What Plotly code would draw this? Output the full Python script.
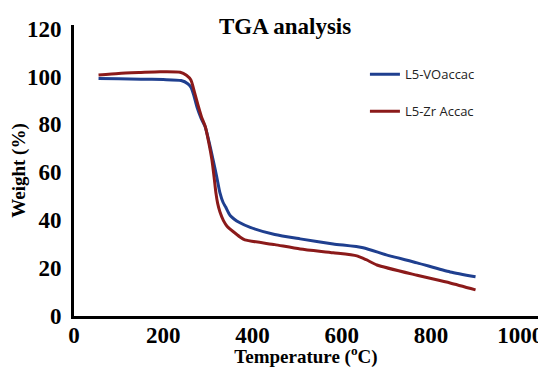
import plotly.graph_objects as go

# L5-VOaccac
temp_vo = [55, 100, 150, 200, 240, 255, 262, 268, 276, 285, 294, 303, 312, 320, 327, 334, 340, 350, 372, 395, 450, 507, 581, 648, 700, 769, 843, 900]
wt_vo = [99.2, 99.1, 98.9, 98.7, 98.3, 97.0, 95.5, 92.5, 87, 82.5, 79, 72.5, 65, 58, 51.5, 47.5, 45.5, 42, 38.9, 37, 34, 32.2, 30.1, 28.5, 25.5, 22.2, 18.4, 16.4]

# L5-Zr Accac
temp_zr = [55, 100, 150, 193, 238, 252, 262, 270, 278, 286, 294, 302, 309, 314, 318, 322, 327, 335, 343, 372, 383, 450, 507, 581, 634, 655, 679, 769, 843, 900]
wt_zr = [100.6, 101.3, 101.7, 102, 101.8, 100.5, 98.5, 93.5, 88, 83, 79.2, 72.5, 65.3, 58, 51.5, 47, 43.5, 39.8, 37.5, 33, 31.8, 29.8, 28, 26.4, 25.1, 23.5, 21.3, 17, 13.8, 10.9]

x_ticks = [0, 200, 400, 600, 800, 1000]
y_ticks = [0, 20, 40, 60, 80, 100, 120]

fig = go.Figure()
fig.add_trace(go.Scatter(x=temp_vo, y=wt_vo, mode="lines", name="L5-VOaccac",
                         line=dict(color="#1f3f8f", width=3, shape="spline", smoothing=0.6), legendgroup="a"))
fig.add_trace(go.Scatter(x=temp_zr, y=wt_zr, mode="lines", name="L5-Zr Accac",
                         line=dict(color="#8b1a1a", width=3, shape="spline", smoothing=0.6), legendgroup="b"))

serif = "Liberation Serif, Times New Roman, serif"
# the page body has an 8px margin, so the figure is sized and placed to compensate
fig.update_layout(
    width=538, height=360,
    margin=dict(l=66, r=8, t=17, b=52, autoexpand=False),
    paper_bgcolor="white", plot_bgcolor="white",
    title=dict(text="<b>TGA analysis</b>", x=0.515, xanchor="center", y=0.95, yanchor="middle",
               font=dict(family=serif, size=23, color="black")),
    legend=dict(x=0.627, y=0.882, xanchor="left", yanchor="top", bgcolor="rgba(0,0,0,0)",
                tracegroupgap=17, font=dict(family="Open Sans, Liberation Sans, sans-serif", size=13, color="#222")),
    xaxis=dict(range=[0, 1040], tickvals=x_ticks, ticktext=[f"<b>{v}</b>" for v in x_ticks],
               showgrid=False, zeroline=False, showline=True, linecolor="black", linewidth=3,
               ticks="", ticklabelstandoff=-4, automargin=False,
               tickfont=dict(family=serif, size=23, color="black"),
               title=dict(text="<b>Temperature (<sup>o</sup>C)</b>", standoff=4,
                          font=dict(family=serif, size=19, color="black"))),
    yaxis=dict(range=[0, 121.5], tickvals=y_ticks, ticktext=[f"<b>{v}</b>" for v in y_ticks],
               showgrid=False, zeroline=False, showline=True, linecolor="black", linewidth=3,
               ticks="", ticklabelstandoff=5, automargin=False,
               tickfont=dict(family=serif, size=23, color="black"),
               title=dict(text="<b>Weight (%)</b>", standoff=0,
                          font=dict(family=serif, size=19, color="black"))),
)
fig.write_html("out.html")
